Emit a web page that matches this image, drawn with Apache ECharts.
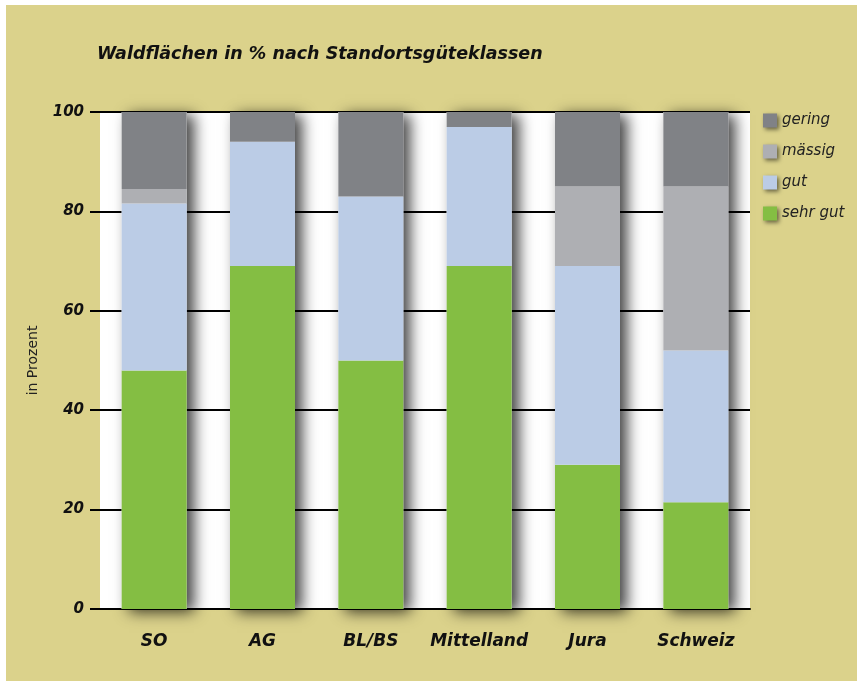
<!DOCTYPE html>
<html>
<head>
<meta charset="utf-8">
<title>Waldflächen nach Standortsgüteklassen</title>
<script src="https://cdn.jsdelivr.net/npm/echarts@6/dist/echarts.min.js"></script>
<style>
    body { margin: 0; background: #fff; }
    #wrap { position: relative; width: 857px; height: 681px; background: #fff; }
    #chart { position: absolute; left: 6px; top: 5px; width: 851px; height: 676px; background: #dbd28b; }
</style>
</head>
<body>
<div id="wrap"><div id="chart"></div></div>
<script>
const regions = ['SO', 'AG', 'BL/BS', 'Mittelland', 'Jura', 'Schweiz']
const sehrGut = [48, 69, 50, 69, 29, 21.5]
const gut = [33.6, 25, 33, 28, 40, 30.5]
const maessig = [2.9, 0, 0, 0, 16, 33]
const gering = [15.5, 6, 17, 3, 15, 15]
const yTicks = [0, 20, 40, 60, 80, 100]

const font = 'DejaVu Sans, sans-serif'
const colors = {
    gering: '#808286',
    maessig: '#aeafb3',
    gut: '#bbcce6',
    sehrGut: '#84be43'
}

// total height per bar, only used for the shadow behind the stack
const totals = regions.map((r, i) => sehrGut[i] + gut[i] + maessig[i] + gering[i])

const seg = (name, data, color) => ({
    name: name,
    type: 'bar',
    stack: 'all',
    barWidth: 65,
    z: 3,
    data: data,
    itemStyle: { color: color },
    emphasis: { disabled: true }
})

const myChart = echarts.init(document.getElementById('chart'))
const option = {
    animation: false,
    textStyle: { fontFamily: font },
    title: {
        text: 'Waldflächen in % nach Standortsgüteklassen',
        left: 86,
        top: 35,
        textStyle: { fontFamily: font, fontSize: 17.5, fontWeight: 'bold', fontStyle: 'italic', color: '#111' }
    },
    legend: {
        orient: 'vertical',
        left: 752,
        top: 103,
        itemWidth: 14,
        itemHeight: 14,
        itemGap: 16,
        icon: 'rect',
        data: ['gering', 'mässig', 'gut', 'sehr gut'],
        itemStyle: { shadowBlur: 4, shadowOffsetX: 2, shadowOffsetY: 2, shadowColor: 'rgba(0,0,0,0.55)' },
        textStyle: { fontFamily: font, fontSize: 15, fontStyle: 'italic', color: '#222' }
    },
    grid: {
        left: 94,
        right: 107,
        top: 107,
        bottom: 72,
        show: true,
        backgroundColor: '#fff',
        borderWidth: 0
    },
    xAxis: {
        type: 'category',
        data: regions,
        axisLine: { lineStyle: { color: '#000', width: 2 } },
        axisTick: { show: false },
        axisLabel: { interval: 0, margin: 24, fontFamily: font, fontSize: 17, fontWeight: 'bold', fontStyle: 'italic', color: '#111' }
    },
    yAxis: {
        type: 'value',
        min: yTicks[0],
        max: yTicks[yTicks.length - 1],
        interval: 20,
        name: 'in Prozent',
        nameLocation: 'middle',
        nameRotate: 90,
        nameGap: 60,
        nameTextStyle: { fontFamily: font, fontSize: 14, color: '#222' },
        axisLine: { show: false },
        axisTick: { show: true, length: 10, lineStyle: { color: '#000', width: 2 } },
        axisLabel: { margin: 16, fontFamily: font, fontSize: 15, fontWeight: 'bold', fontStyle: 'italic', color: '#111' },
        splitLine: { lineStyle: { color: '#000', width: 2 } }
    },
    series: [
        {
            name: 'shadow',
            type: 'bar',
            barWidth: 65,
            barGap: '-100%',
            z: 2,
            silent: true,
            data: totals,
            itemStyle: {
                color: '#fff',
                shadowBlur: 14,
                shadowOffsetX: 7,
                shadowOffsetY: 3,
                shadowColor: 'rgba(0,0,0,0.75)'
            }
        },
        seg('sehr gut', sehrGut, colors.sehrGut),
        seg('gut', gut, colors.gut),
        seg('mässig', maessig, colors.maessig),
        seg('gering', gering, colors.gering)
    ]
}
myChart.setOption(option)
</script>
</body>
</html>
